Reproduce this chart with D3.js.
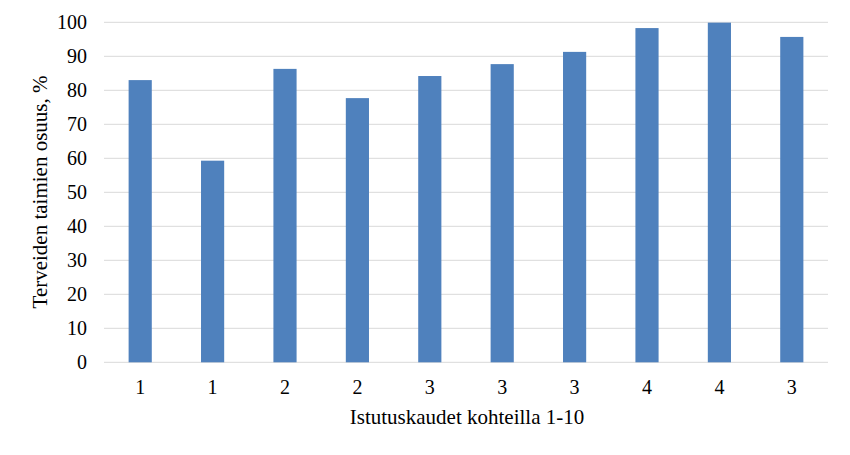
<!DOCTYPE html>
<html><head><meta charset="utf-8">
<script src="https://cdn.jsdelivr.net/npm/d3@7"></script>
<style>body{margin:0;background:#fff;} svg{display:block;}</style>
</head><body>
<svg id="c" width="850" height="455"></svg>
<script>
const categories = ["1","1","2","2","3","3","3","4","4","3"];
const values = [83.0, 59.3, 86.3, 77.7, 84.2, 87.7, 91.3, 98.3, 99.9, 95.7];
const yTicks = [0,10,20,30,40,50,60,70,80,90,100];
const yTitle = "Terveiden taimien osuus, %";
const xTitle = "Istutuskaudet kohteilla 1-10";

const svg = d3.select("#c");
const m = {left:104, right:22, top:22.3, bottom:92.7};
const W = 850, H = 455;
const x = d3.scaleBand().domain(d3.range(categories.length)).range([m.left, W-m.right]).paddingInner(0.68).paddingOuter(0.34);
const y = d3.scaleLinear().domain([0,100]).range([H-m.bottom, m.top]);
const font = "'Liberation Serif','Times New Roman',serif";

svg.append("g").selectAll("line").data(yTicks).join("line")
  .attr("x1", m.left).attr("x2", W-m.right)
  .attr("y1", d=>y(d)).attr("y2", d=>y(d))
  .attr("stroke", "#d9d9d9").attr("stroke-width", 1);

svg.append("g").selectAll("rect").data(values).join("rect")
  .attr("x", (d,i)=>x(i)).attr("width", x.bandwidth())
  .attr("y", d=>y(d)).attr("height", d=>y(0)-y(d))
  .attr("fill", "#4f81bd");

svg.append("g").selectAll("text").data(yTicks).join("text")
  .attr("x", 87).attr("y", d=>y(d)).attr("dy","0.35em")
  .attr("text-anchor","end").attr("font-family",font).attr("font-size",20).attr("fill","#000")
  .text(d=>d);

svg.append("g").selectAll("text").data(categories).join("text")
  .attr("x", (d,i)=>x(i)+x.bandwidth()/2).attr("y", 394)
  .attr("text-anchor","middle").attr("font-family",font).attr("font-size",20).attr("fill","#000")
  .text(d=>d);

svg.append("text").attr("x", 467).attr("y", 424).attr("text-anchor","middle")
  .attr("font-family",font).attr("font-size",21).text(xTitle);

svg.append("text").attr("transform","translate(47,192) rotate(-90)").attr("text-anchor","middle")
  .attr("font-family",font).attr("font-size",21).text(yTitle);
</script>
</body></html>
